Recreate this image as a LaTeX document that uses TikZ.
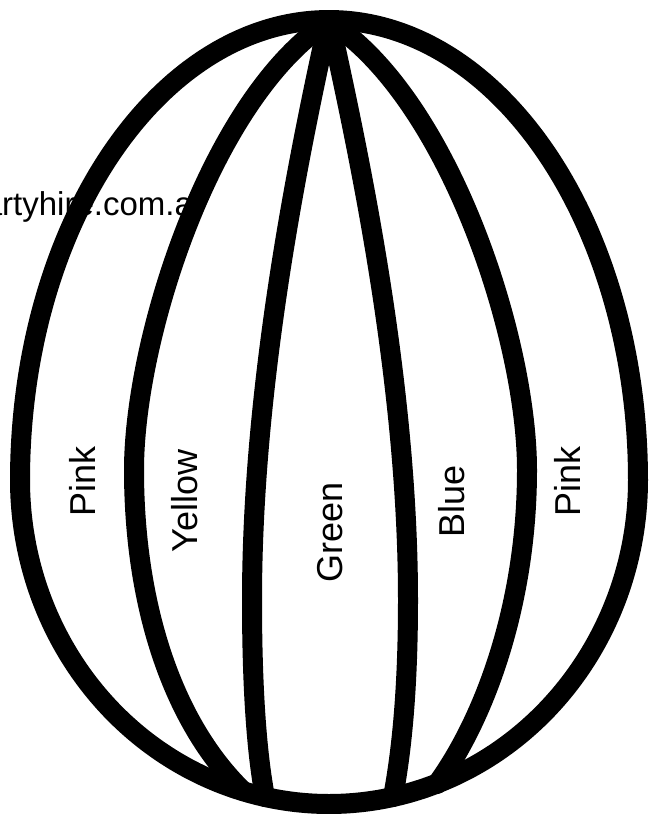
\documentclass[tikz,border=0pt]{standalone}
\usepackage{fontspec}
\setmainfont{Liberation Sans}
\begin{document}
\begin{tikzpicture}[x=1pt,y=-1pt,
  band/.style={line width=20pt, line join=round, line cap=round, black},
  label/.style={rotate=90, inner sep=0pt, font=\fontsize{36}{40}\selectfont},
  wmtext/.style={inner sep=0pt, font=\fontsize{33}{36}\selectfont, anchor=base west}]
\useasboundingbox (0,0) rectangle (655,814);
\clip (0,0) rectangle (655,814);
% watermark (partly hidden: only shows left of the yellow/pink line)
\begin{scope}
  \clip (-10,-10) -- (328,-10) -- (328,22) .. controls (210,100) and (134,340) .. (134,470)
        .. controls (134,600) and (170,720) .. (243,791) -- (243,830) -- (-10,830) -- cycle;
  \node[wmtext] (wm) at (-34.7,215) {partyhire.com.au};
\end{scope}
% inner curves
\draw[band] (328,22) .. controls (210,100) and (134,340) .. (134,470)
                     .. controls (134,600) and (170,720) .. (243,791);
\draw[band] (328,22) .. controls (300,150) and (252,380) .. (252,600)
                     .. controls (252,700) and (258,760) .. (265,797);
\draw[band] (330,22) .. controls (358,150) and (408,380) .. (408,600)
                     .. controls (408,700) and (400,760) .. (393,797);
\draw[band] (330,22) .. controls (450,100) and (527,340) .. (527,470)
                     .. controls (527,600) and (487,715) .. (437,784);
% egg outline
\draw[band] plot[domain=0:360, samples=241, smooth] ({329+309*cos(\x)},{480-(sin(\x)>0?460:324)*sin(\x)}) -- cycle;
% labels
\node[label] (p1) at (82,481) {Pink};
\node[label] (y) at (185,501) {Yellow};
\node[label] (g) at (330,532) {Green};
\node[label] (b) at (452,501) {Blue};
\node[label] (p2) at (567,481) {Pink};
\end{tikzpicture}
\end{document}
